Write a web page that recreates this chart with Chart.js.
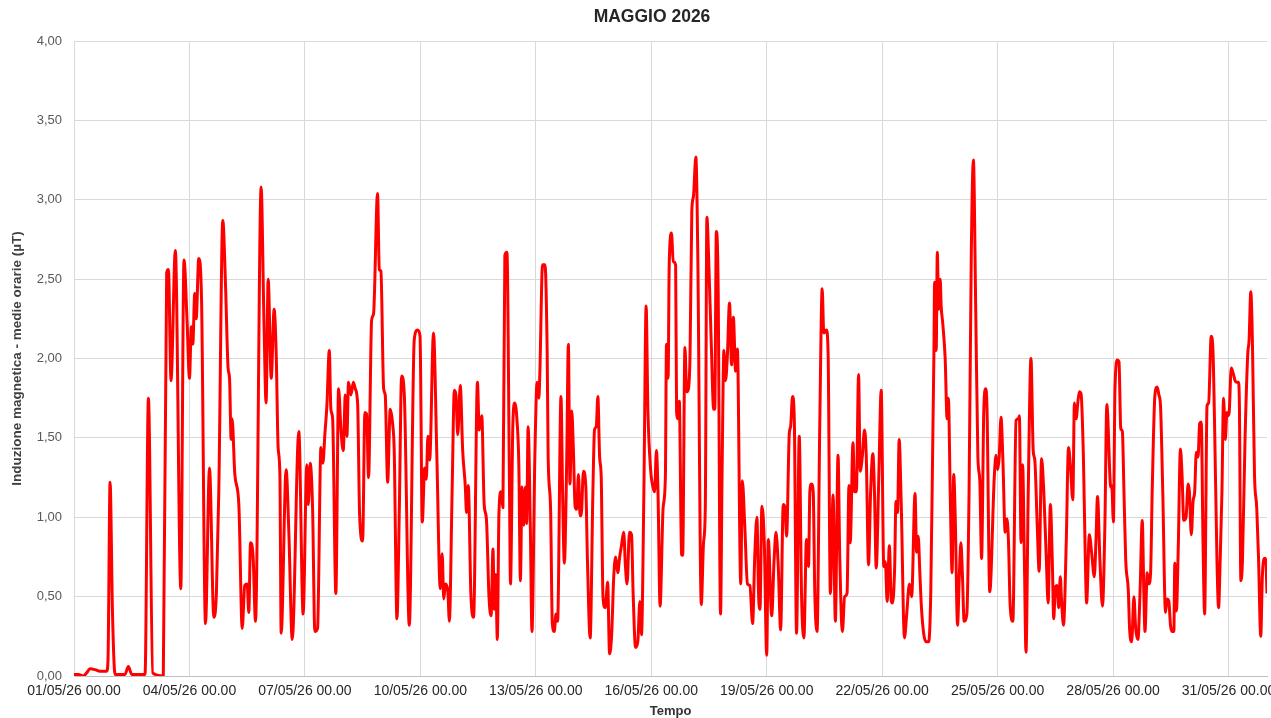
<!DOCTYPE html>
<html lang="it">
<head>
<meta charset="utf-8">
<title>Maggio 2026</title>
<script src="https://cdn.jsdelivr.net/npm/chart.js@4.4.1/dist/chart.umd.min.js"></script>
<style>
    html, body { margin: 0; padding: 0; background: #fff; }
    #chart { display: block; }
</style>
</head>
<body>
<canvas id="chart" width="1271" height="718"></canvas>
<script>
// ----------- Data -----------
const chartTitle = "MAGGIO 2026";
const yTitle = "Induzione magnetica - medie orarie (µT)";
const xTitle = "Tempo";

// x tick labels, one every 3 days (72 h)
const xTickLabels = ["01/05/26 00.00","04/05/26 00.00","07/05/26 00.00","10/05/26 00.00","13/05/26 00.00",
    "16/05/26 00.00","19/05/26 00.00","22/05/26 00.00","25/05/26 00.00","28/05/26 00.00","31/05/26 00.00"];
const yTickLabels = ["0,00","0,50","1,00","1,50","2,00","2,50","3,00","3,50","4,00"];

// hours since 01/05 00.00 and the value (µT)
const hours = [
    0,2.7,5.8,7.9,10,13.1,16.2,20.4,21.2,22.5,24,25.6,31.8,33.9,36,44.3,46.4,49.1,55.7,57.8,58.9,60.5,63.2,66.6,68.6,
    70.5,72,73.2,74.1,75.3,76.2,77.8,79.5,82,84.5,87.2,88.8,90.3,92.8,94.5,96.1,97,98,98.6,100.3,102.8,104.9,106.5,108,109,
    110.1,111.7,113.2,116.7,118.4,119.8,121.1,123,124.8,126.1,127.3,128.4,129.2,132.3,134,136.1,140.2,142.9,
    145.2,146.1,147.3,148.8,150.2,151.9,154,155.2,156.5,157.7,159.2,160.2,161.3,163.3,165,166.5,167.9,169.2,170.2,171.2,
    172.7,174.2,175.4,176.9,178.1,180,181.4,182.5,183.7,185.6,186.8,189.3,190.4,191.4,193.1,194.1,195.6,197.2,198.7,199.7,
    201.4,202.9,204.3,206,209.1,212.2,214.3,215.8,
    217.2,218.7,219.7,220.7,221.8,224.2,226.3,228.4,229.6,230.6,231.7,233.1,234.1,235.8,237.2,238.2,239.3,240.9,242.4,244,
    244.8,245.9,247.5,249.2,251.6,252.7,254.3,255.8,257.2,258.8,260.1,261.3,262.1,263,264,265,266.3,267.5,268.7,270,
    271.6,272.2,273.7,274.9,276.4,277.4,278.4,279.4,280.5,281.5,282.3,283.2,284.6,285.6,
    287.4,288.8,289.9,290.5,292.2,293.7,295.1,295.7,297.2,298.3,299.5,300.6,301.6,303.7,304.7,305.8,307.3,308.3,309.3,310.4,
    311.4,312.5,313.5,314.6,315.6,316.3,317.7,319.2,320.2,321.9,323.6,324.6,325.7,326.7,327.8,328.8,329.9,331.3,332.8,334,
    335.3,336.6,337.8,339.1,340.3,341.4,342.8,343.9,344.9,346.4,347.7,348.7,350.2,351.6,352.9,353.9,355.4,356.8,
    357.9,359.6,361.1,362.1,363.2,364.2,365.5,367.4,368.8,369.5,370.5,371.2,372.6,373.7,375.2,375.8,376.8,377.5,378.9,379.6,
    381,382.1,383.2,384.2,385.3,386.3,387.8,389,391.2,392.6,393.7,394.7,395.8,397.5,398.9,399.6,400.6,401.7,403.2,404.2,
    405.3,406.3,407.4,408.8,410.1,411.2,412.6,413.7,415.8,416.8,418.3,420,421.5,423.2,424.6,425.9,426.9,427.8,429,430.5,432,
    433,435.1,436.6,437.8,439.2,440.7,442.3,443.4,444.4,446.1,446.9,448.1,449.2,450.6,452.3,453.7,455.2,456.8,458.1,458.9,
    459.9,461,462,463.4,465.1,466.6,467.6,469.2,470.3,471.7,473.4,474.8,476.5,477.5,479.2,480.6,482.1,483.3,484.1,485.8,
    486.8,487.9,489.3,490.3,491.6,493,494.1,495.5,496.8,498.2,499.2,500.3,501.9,503.4,
    505,506,507.1,508.5,509.7,510.5,511.8,512.6,513.6,514.6,515.9,517.9,519.3,521,522.4,524.5,525.5,526.5,527.5,528.5,
    530,531.6,533,534.3,535.7,536.3,536.7,537.7,538.4,539.2,540.2,540.8,541.8,543.3,544.5,545.3,546.5,547.6,548.6,549.6,
    551,552.1,553.1,554.1,555.1,556.8,558.2,559.6,560.9,562.3,563.7,564.9,566,567.4,568.6,569.4,571.1,
    573.9,575,576,577,578.1,579.3,580.7,581.8,582.8,583.8,585.5,587.5,589,589.6,590.6,591.6,592.7,593.7,595.1,596.8,
    598.2,599.2,600.7,601.9,603.4,604.8,606.4,607.5,608.9,610.1,611,612,613,614.1,615.1,615.9,617.1,618.8,620.2,621.3,
    622.9,623.9,625,626,627,628,629.5,630.7,631.5,633.2,634.6,636.3,637.3,638.3,639.8,641.4,642.9,644.1,
    646.6,647.2,648.2,649.2,650.7,651.7,652.8,653.8,654.8,655.9,657.5,658.3,659.6,661,662.1,663.5,664.8,666.2,667.2,667.9,
    669.3,670.3,671.4,672.4,674.1,675.5,676.6,677.6,679,680.7,681.7,682.8,683.8,684.8,685.9,686.5,687.5,688.6,690,691,
    692.1,693.5,694.8,695.6,696.8,697.9,698.9,699.9,701,702,703,704.1,705.1,706.6,707.6,709.2,710.3,711.3,712.8,713.8,
    714.8,715.9,716.9,718,719,719.6,720.4,721.7,723.1,724.1,725.2,726.2,726.8,727.7,728.7,730.3,732,732.8,733.9,734.9,
    736.2,737.6,738.7,740.1,741.1,742.3,743.2,744
];
const values = [
    0.01,0.01,0,0.02,0.045,0.04,0.03,0.03,0.1,1.22,0.4,0.01,0.01,0.06,0.01,0.01,1.75,0.02,0,2.54,2.56,1.86,2.68,0.55,2.62,
    2.24,1.875,2.2,2.09,2.41,2.25,2.63,2.39,0.33,1.31,0.37,0.52,1.16,2.87,2.46,1.94,1.875,1.49,1.62,1.27,1.08,0.3,0.57,0.58,0.4,
    0.84,0.75,0.345,3.08,2.27,1.72,2.5,1.875,2.31,2.03,1.44,1.27,0.27,1.3,0.9,0.23,1.54,0.39,
    1.33,1.08,1.34,1.05,0.28,0.3,1.44,1.34,1.53,1.7,2.05,1.68,1.62,0.52,1.81,1.55,1.42,1.77,1.51,1.85,
    1.77,1.85,1.81,1.71,1.02,0.85,1.66,1.65,1.25,2.24,2.28,3.04,2.56,2.55,1.81,1.77,1.22,1.68,1.59,1.42,
    0.36,1.06,1.89,1.77,0.32,2.12,2.18,2.14,
    0.97,1.31,1.24,1.51,1.36,2.16,1.38,0.55,0.77,0.485,0.58,0.54,0.345,1.16,1.8,1.77,1.52,1.83,1.42,1.2,
    1.03,1.2,0.52,0.37,1.85,1.55,1.64,1.08,0.99,0.5,0.38,0.8,0.42,0.64,0.23,1.02,1.16,1.06,2.65,2.67,
    1.16,0.58,1.59,1.72,1.59,1.34,0.6,1.19,0.95,1.19,0.96,1.57,0.93,0.28,
    1.38,1.85,1.75,1.9,2.59,2.59,2.03,1.38,1.06,0.33,0.28,0.39,0.345,1.76,1.16,0.71,1.38,2.09,1.21,1.67,
    1.44,1.07,1.05,1.27,1.01,1.01,1.29,1.19,0.73,0.24,1.16,1.55,1.57,1.76,1.38,1.25,0.5,0.43,0.59,0.14,
    0.26,0.625,0.75,0.65,0.75,0.82,0.905,0.69,0.58,0.905,0.89,0.52,0.18,0.215,0.47,0.26,1.16,2.33,
    1.68,1.3,1.19,1.16,1.42,1.16,0.44,1.06,1.25,2.09,1.875,2.59,2.79,2.61,2.59,1.66,1.62,1.73,0.765,0.76,
    2.07,1.79,1.81,2.03,2.93,3.02,3.27,2.67,0.45,0.84,1.06,2.89,2.63,2.07,1.68,1.68,2.8,2.46,0.39,1.31,
    2.05,1.86,2,2.35,1.96,2.26,1.92,2.06,0.58,1.23,0.95,0.58,0.57,0.33,0.77,1,0.52,0.42,1.07,0.84,0.13,
    0.86,0.38,0.73,0.905,0.69,0.29,1.08,1.06,0.88,1.53,1.57,1.76,1.62,0.27,1.51,0.52,0.24,0.86,0.69,1.16,
    1.21,1.16,0.52,0.28,1.59,2.44,2.16,2.18,2.03,0.52,1.14,0.345,1.39,0.78,0.28,0.5,0.52,1.2,0.84,1.47,
    1.16,1.16,1.9,1.29,1.38,1.55,1.38,0.7,1.16,1.4,1.16,0.68,1.25,1.8,
    0.69,0.72,0.47,0.82,0.47,0.46,0.69,1.1,1.03,1.49,1.08,0.24,0.39,0.58,0.5,1.15,0.78,0.88,0.65,0.43,
    0.26,0.215,0.215,0.52,1.59,2.05,2.48,2.05,2.67,2.31,2.5,2.33,2.22,2,1.62,1.75,1.12,0.65,1.27,0.99,
    0.32,0.625,0.84,0.625,0.345,0.39,1.16,2.67,3.25,2.35,1.38,1.23,0.74,1.68,1.81,1.68,0.53,
    1.25,1.39,1.3,1.38,1.63,1.36,0.905,0.99,0.84,0.45,0.345,1.61,1.62,1.64,0.84,1.33,0.73,0.15,1.16,2,
    1.42,1.36,0.95,0.66,1.37,1.16,0.73,0.46,1.08,0.73,0.36,0.56,0.57,0.43,0.625,0.47,0.32,0.84,1.44,1.34,
    1.11,1.72,1.62,1.72,1.79,1.78,1.38,0.73,0.46,0.89,0.78,0.625,0.84,1.13,0.73,0.44,0.95,1.71,
    1.19,1.2,0.97,1.81,1.99,1.98,1.56,1.54,1.16,0.73,0.54,0.3,0.215,0.5,0.3,0.23,0.52,0.98,0.52,0.28,
    0.65,0.58,0.65,1.16,1.77,1.82,1.77,1.7,1.16,0.4,0.485,0.47,0.32,0.28,0.28,0.71,0.41,0.78,1.43,1.27,
    0.98,1,1.21,1.16,0.89,1.1,1.16,1.41,1.38,1.59,1.6,0.84,0.39,1.7,1.72,2.14,2.05,1.59,0.73,0.43,
    0.73,1.16,1.75,1.49,1.66,1.64,1.66,1.94,1.9,1.86,1.85,1.85,1.7,0.6,0.73,1.49,2.03,2.11,2.42,2.11,
    1.27,1.06,0.75,0.25,0.625,0.74,0.74,0.52
];

// ----------- Chart -----------
const font = '"Liberation Sans", Arial, sans-serif';

const titlePlugin = {
    id: "pageTitle",
    afterDraw(chart) {
        const c = chart.ctx;
        c.save();
        c.font = "bold 17.5px " + font;
        c.fillStyle = "#262626";
        c.textAlign = "center";
        c.textBaseline = "middle";
        c.fillText(chartTitle, 652, 17);
        c.restore();
    }
};

const points = hours.map((h, i) => ({ x: h, y: values[i] }));

new Chart(document.getElementById("chart"), {
    type: "line",
    data: {
        datasets: [{
            data: points,
            borderColor: "#ff0000",
            borderWidth: 3,
            borderJoinStyle: "round",
            pointRadius: 0,
            cubicInterpolationMode: "monotone",
            fill: false
        }]
    },
    options: {
        responsive: false,
        animation: false,
        devicePixelRatio: 1,
        layout: { padding: { top: 41, right: 4, left: 0, bottom: 0 } },
        plugins: {
            legend: { display: false },
            tooltip: { enabled: false },
            title: { display: false }
        },
        scales: {
            x: {
                type: "linear",
                min: 0,
                max: 744,
                grid: { color: "#d9d9d9", drawTicks: false },
                border: { color: "#bfbfbf" },
                ticks: {
                    stepSize: 72,
                    includeBounds: false,
                    autoSkip: false,
                    maxRotation: 0,
                    padding: 7,
                    color: "#262626",
                    font: { family: font, size: 14 },
                    callback: v => xTickLabels[v / 72]
                },
                title: {
                    display: true,
                    text: xTitle,
                    color: "#333",
                    padding: 0,
                    font: { family: font, size: 13, weight: "bold", lineHeight: 1 }
                },
                afterFit: s => { s.height = 42; s.paddingLeft = 0; s.paddingRight = 0; }
            },
            y: {
                min: 0,
                max: 4,
                grid: { color: "#d9d9d9", drawTicks: false },
                border: { color: "#d9d9d9" },
                ticks: {
                    stepSize: 0.5,
                    padding: 12,
                    color: "#595959",
                    font: { family: font, size: 13 },
                    callback: v => yTickLabels[Math.round(v / 0.5)]
                },
                title: {
                    display: true,
                    text: yTitle,
                    color: "#404040",
                    padding: { top: 9, bottom: 0 },
                    font: { family: font, size: 13.5, weight: "bold" }
                },
                afterFit: s => { s.width = 74; s.paddingTop = 0; s.paddingBottom = 0; }
            }
        }
    },
    plugins: [titlePlugin]
});
</script>
</body>
</html>
